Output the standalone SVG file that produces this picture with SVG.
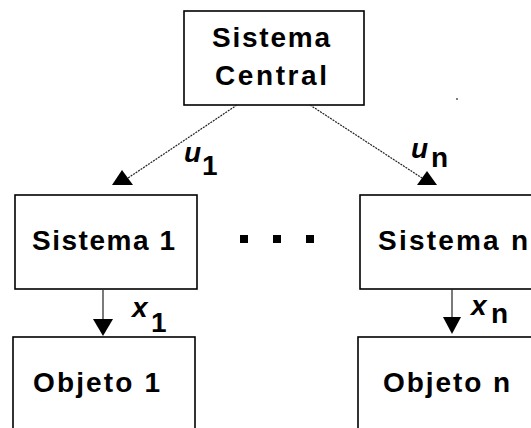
<svg xmlns="http://www.w3.org/2000/svg" width="531" height="428" viewBox="0 0 531 428">
<style>
.box{fill:#fff;stroke:#000;stroke-width:1.6}
.t{font-family:"Liberation Sans",Arial,sans-serif;font-size:28px;font-weight:bold;fill:#000}
.it{font-style:italic}
.ln{stroke:#222;stroke-width:1.2;fill:none}
.dl{stroke:#222;stroke-width:1.2;stroke-dasharray:2 1;fill:none}
.ah{fill:#000}
</style>
<rect width="531" height="428" fill="#fff"/>
<g id="central">
<rect class="box" x="184" y="11" width="180" height="94"/>
<text class="t" x="212" y="47" textLength="118" lengthAdjust="spacing">Sistema</text>
<text class="t" x="215" y="85" textLength="112" lengthAdjust="spacing">Central</text>
</g>
<g id="sistema1">
<rect class="box" x="15" y="195" width="182" height="94"/>
<text class="t" x="32" y="250" textLength="143" lengthAdjust="spacing">Sistema 1</text>
</g>
<g id="sistemaN">
<rect class="box" x="360" y="195" width="190" height="94"/>
<text class="t" x="378" y="250" textLength="150" lengthAdjust="spacing">Sistema n</text>
</g>
<g id="objeto1">
<rect class="box" x="13" y="337" width="182" height="110"/>
<text class="t" x="33" y="392" textLength="127" lengthAdjust="spacing">Objeto 1</text>
</g>
<g id="objetoN">
<rect class="box" x="358" y="337" width="190" height="110"/>
<text class="t" x="383" y="392" textLength="127" lengthAdjust="spacing">Objeto n</text>
</g>
<g id="ellipsis">
<rect class="ah" x="240" y="235" width="8" height="8"/>
<rect class="ah" x="273" y="235" width="8" height="8"/>
<rect class="ah" x="306" y="235" width="8" height="8"/>
</g>
<g id="connectors">
<line class="dl" x1="237" y1="105" x2="128" y2="178"/>
<polygon class="ah" points="122,170 133,185 112,185"/>
<line class="dl" x1="310" y1="105" x2="422" y2="178"/>
<polygon class="ah" points="427,171 437,185 417,185"/>
<line class="ln" x1="103" y1="290" x2="103" y2="322"/>
<polygon class="ah" points="93,319 113,319 103,336"/>
<line class="ln" x1="452" y1="289" x2="452" y2="320"/>
<polygon class="ah" points="443,317 461,317 452,334"/>
</g>
<g id="labels">
<text class="t it" x="184" y="162">u</text>
<text class="t" x="202" y="175">1</text>
<text class="t it" x="411" y="158">u</text>
<text class="t" x="431" y="167">n</text>
<text class="t it" x="132" y="317">x</text>
<text class="t" x="151" y="332">1</text>
<text class="t it" x="471" y="315">x</text>
<text class="t" x="491" y="323">n</text>
</g>
<circle cx="457" cy="99" r="1" fill="#555"/>
</svg>
